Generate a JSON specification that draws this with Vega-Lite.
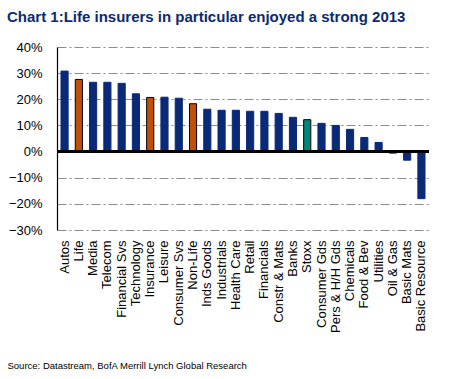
{
  "$schema": "https://vega.github.io/schema/vega-lite/v6.json",
  "autosize": {"type": "none"},
  "width": 372,
  "height": 183,
  "padding": {"left": 57, "top": 47, "right": 30, "bottom": 149},
  "background": "white",
  "title": {
    "text": "Chart 1:Life insurers in particular enjoyed a strong 2013",
    "anchor": "start",
    "frame": "group",
    "dx": -50,
    "font": "Liberation Sans",
    "fontSize": 15,
    "fontWeight": "bold",
    "color": "#0B2A6F",
    "offset": 16
  },
  "config": {
    "view": {"stroke": null},
    "font": "Liberation Sans"
  },
  "data": {
    "values": [
      {"sector": "Autos", "ret": 0.308, "kind": "other"},
      {"sector": "Life", "ret": 0.276, "kind": "insurance"},
      {"sector": "Media", "ret": 0.265, "kind": "other"},
      {"sector": "Telecom", "ret": 0.265, "kind": "other"},
      {"sector": "Financial Svs", "ret": 0.261, "kind": "other"},
      {"sector": "Technology", "ret": 0.221, "kind": "other"},
      {"sector": "Insurance", "ret": 0.207, "kind": "insurance"},
      {"sector": "Leisure", "ret": 0.208, "kind": "other"},
      {"sector": "Consumer Svs", "ret": 0.204, "kind": "other"},
      {"sector": "Non-Life", "ret": 0.183, "kind": "insurance"},
      {"sector": "Inds Goods", "ret": 0.162, "kind": "other"},
      {"sector": "Industrials", "ret": 0.158, "kind": "other"},
      {"sector": "Health Care", "ret": 0.158, "kind": "other"},
      {"sector": "Retail", "ret": 0.154, "kind": "other"},
      {"sector": "Financials", "ret": 0.154, "kind": "other"},
      {"sector": "Constr & Mats", "ret": 0.146, "kind": "other"},
      {"sector": "Banks", "ret": 0.131, "kind": "other"},
      {"sector": "Stoxx", "ret": 0.122, "kind": "index"},
      {"sector": "Consumer Gds", "ret": 0.108, "kind": "other"},
      {"sector": "Pers & H/H Gds", "ret": 0.100, "kind": "other"},
      {"sector": "Chemicals", "ret": 0.085, "kind": "other"},
      {"sector": "Food & Bev", "ret": 0.054, "kind": "other"},
      {"sector": "Utilities", "ret": 0.035, "kind": "other"},
      {"sector": "Oil & Gas", "ret": -0.006, "kind": "other"},
      {"sector": "Basic Mats", "ret": -0.033, "kind": "other"},
      {"sector": "Basic Resource", "ret": -0.180, "kind": "other"}
    ]
  },
  "encoding": {
    "x": {
      "field": "sector",
      "type": "nominal",
      "sort": null,
      "scale": {"paddingInner": 0.5, "paddingOuter": 0.28},
      "axis": {
        "title": "Source: Datastream, BofA Merrill Lynch Global Research",
        "titleFont": "Liberation Sans",
        "titleFontSize": 9.5,
        "titleFontWeight": "normal",
        "titleColor": "black",
        "titleAnchor": "start",
        "titleAlign": "left",
        "titleBaseline": "alphabetic",
        "titleX": -50,
        "titleY": 138,
        "labelAngle": -90,
        "labelAlign": "right",
        "labelBaseline": "middle",
        "labelFontSize": 13,
        "labelColor": "black",
        "labelPadding": 10,
        "labelOverlap": false,
        "domain": false,
        "ticks": false,
        "grid": false
      }
    },
    "y": {
      "field": "ret",
      "type": "quantitative",
      "scale": {"domain": [-0.3, 0.4], "nice": false, "zero": false},
      "axis": {
        "title": null,
        "format": ".0%",
        "values": [-0.3, -0.2, -0.1, 0, 0.1, 0.2, 0.3, 0.4],
        "labelFontSize": 13,
        "labelColor": "black",
        "labelPadding": 15,
        "ticks": false,
        "domain": true,
        "domainColor": "black",
        "domainWidth": 1.2,
        "grid": true,
        "gridColor": "#8C8C8C",
        "gridWidth": 1.2,
        "gridDash": [9, 3, 2, 3]
      }
    }
  },
  "layer": [
    {
      "mark": {"type": "bar"},
      "encoding": {
        "color": {
          "field": "kind",
          "type": "nominal",
          "scale": {"domain": ["other", "insurance", "index"], "range": ["#0A2A78", "#BF4F0D", "#00877B"]},
          "legend": null
        },
        "stroke": {
          "field": "kind",
          "type": "nominal",
          "scale": {"domain": ["other", "insurance", "index"], "range": ["#0A2A78", "#000000", "#000000"]},
          "legend": null
        },
        "strokeWidth": {"value": 1}
      }
    },
    {
      "mark": {"type": "rule", "color": "black", "strokeWidth": 1.5},
      "encoding": {"y": {"datum": 0}, "x": null}
    }
  ]
}
